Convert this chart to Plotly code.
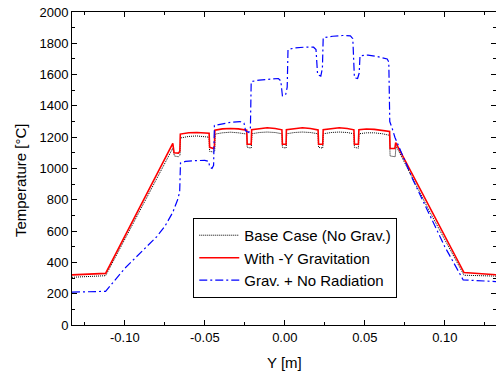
import plotly.graph_objects as go

# Base case (no gravity) - black dotted
base_x = [-0.133, -0.112, -0.0700, -0.0690, -0.0665, -0.0655, -0.0652,
          -0.060, -0.055, -0.050, -0.0473, -0.0470, -0.0445, -0.0438, -0.0435,
          -0.039, -0.034, -0.029, -0.0238, -0.0235, -0.0210, -0.0205,
          -0.016, -0.011, -0.006, -0.0018, -0.0015, 0.0008, 0.0012,
          0.006, 0.011, 0.016, 0.0208, 0.0211, 0.0237, 0.0241,
          0.029, 0.034, 0.039, 0.0432, 0.0435, 0.0460, 0.0464,
          0.051, 0.056, 0.061, 0.0655, 0.0658, 0.0690, 0.0695,
          0.090, 0.112, 0.133]
base_y = [305, 315, 1130, 1080, 1075, 1085, 1195,
          1205, 1208, 1205, 1200, 1110, 1105, 1115, 1220,
          1228, 1232, 1228, 1220, 1135, 1130, 1222,
          1230, 1233, 1230, 1222, 1135, 1130, 1222,
          1230, 1233, 1230, 1222, 1135, 1130, 1222,
          1230, 1233, 1230, 1222, 1135, 1130, 1222,
          1228, 1228, 1222, 1212, 1080, 1075, 1145,
          735, 318, 312]

# With -Y gravitation - red solid
grav_x = [-0.133, -0.112, -0.0700, -0.0692, -0.0665, -0.0656, -0.0653,
          -0.060, -0.055, -0.050, -0.0473, -0.0470, -0.0445, -0.0440, -0.0437,
          -0.039, -0.034, -0.029, -0.0238, -0.0235, -0.0210, -0.0207,
          -0.016, -0.011, -0.006, -0.0018, -0.0015, 0.0008, 0.0010,
          0.006, 0.011, 0.016, 0.0208, 0.0211, 0.0237, 0.0240,
          0.029, 0.034, 0.039, 0.0432, 0.0435, 0.0460, 0.0463,
          0.051, 0.056, 0.061, 0.0655, 0.0658, 0.0688, 0.0693,
          0.090, 0.112, 0.133]
grav_y = [320, 330, 1160, 1100, 1098, 1110, 1220,
          1228, 1230, 1228, 1225, 1135, 1128, 1140, 1245,
          1253, 1256, 1253, 1245, 1155, 1155, 1248,
          1256, 1260, 1256, 1247, 1155, 1155, 1248,
          1256, 1260, 1256, 1247, 1155, 1155, 1248,
          1256, 1260, 1256, 1247, 1155, 1155, 1248,
          1252, 1250, 1245, 1236, 1128, 1128, 1165,
          765, 335, 320]

# Gravity + no radiation - blue dash-dot
norad_x = [-0.133, -0.112, -0.100, -0.090, -0.080, -0.075, -0.070, -0.067, -0.0657, -0.0652,
           -0.062, -0.056, -0.050, -0.0475, -0.0470, -0.0455, -0.0445, -0.0440,
           -0.040, -0.034, -0.028, -0.0255, -0.0245, -0.0225, -0.0215, -0.0210,
           -0.016, -0.010, -0.004, -0.0025, -0.0015, 0.0005, 0.0015, 0.0020,
           0.006, 0.012, 0.018, 0.0195, 0.0205, 0.0225, 0.0235, 0.0240,
           0.030, 0.036, 0.041, 0.0425, 0.0435, 0.0455, 0.0465, 0.0470,
           0.052, 0.058, 0.064, 0.0650, 0.0656, 0.0670, 0.0688,
           0.080, 0.090, 0.100, 0.1115, 0.133]
norad_y = [210, 215, 362, 465, 565, 630, 720, 800, 850, 1035,
           1045, 1050, 1052, 1045, 1010, 1000, 1020, 1275,
           1285, 1295, 1300, 1290, 1240, 1230, 1260, 1555,
           1565, 1572, 1575, 1560, 1465, 1470, 1520, 1760,
           1770, 1775, 1775, 1760, 1600, 1590, 1640, 1835,
           1845, 1850, 1848, 1830, 1580, 1575, 1610, 1720,
           1725, 1715, 1700, 1680, 1300, 1260, 1200,
           930, 710, 500, 288, 277]

series_names = ["Base Case (No Grav.)", "With -Y Gravitation", "Grav. + No Radiation"]
x_title = "Y [m]"
y_title = "Temperature [°C]"

x_ticks = [-0.10, -0.05, 0.00, 0.05, 0.10]
y_ticks = [0, 200, 400, 600, 800, 1000, 1200, 1400, 1600, 1800, 2000]

fig = go.Figure()
fig.add_trace(go.Scatter(x=base_x, y=base_y, mode="lines", name=series_names[0],
                         line=dict(color="#000000", width=1, dash="1px,1px")))
fig.add_trace(go.Scatter(x=grav_x, y=grav_y, mode="lines", name=series_names[1],
                         line=dict(color="#ff0000", width=1.6)))
fig.add_trace(go.Scatter(x=norad_x, y=norad_y, mode="lines", name=series_names[2],
                         line=dict(color="#0000ff", width=1.2, dash="8px,3px,2px,3px")))

font_family = "Liberation Sans, Arial, sans-serif"
axis_common = dict(showline=True, linecolor="black", linewidth=1, mirror="ticks",
                   ticks="inside", ticklen=5, tickcolor="black", showgrid=False,
                   zeroline=False, automargin=False, ticklabeloverflow="allow",
                   tickfont=dict(size=13, color="black", family=font_family))

fig.update_layout(
    width=496, height=372,
    margin=dict(l=72, r=0, t=12, b=47),
    paper_bgcolor="white", plot_bgcolor="white",
    font=dict(family=font_family, color="black"),
    showlegend=True,
    legend=dict(x=0.286, y=0.342, xanchor="left", yanchor="top",
                bgcolor="white", bordercolor="black", borderwidth=1,
                font=dict(size=15, color="black", family=font_family),
                tracegroupgap=0, itemwidth=40),
)
fig.update_xaxes(range=[-0.133, 0.132], tickvals=x_ticks,
                 ticktext=[f"{v:.2f}" for v in x_ticks],
                 minor=dict(dtick=0.025, tick0=0, ticks="inside", ticklen=3, tickcolor="black"),
                 **axis_common)
fig.update_yaxes(range=[0, 2000], tickvals=y_ticks,
                 minor=dict(dtick=100, tick0=0, ticks="inside", ticklen=3, tickcolor="black"),
                 **axis_common)

# axis titles placed as annotations to match the reference positions
fig.add_annotation(text=x_title, xref="paper", yref="paper", x=0.5, y=-0.121,
                   xanchor="center", yanchor="middle", showarrow=False,
                   font=dict(size=15, color="black", family=font_family))
fig.add_annotation(text=y_title, xref="paper", yref="paper", x=-0.1226, y=0.463,
                   xanchor="center", yanchor="middle", showarrow=False, textangle=-90,
                   font=dict(size=15, color="black", family=font_family))

# remove the default page margin so the figure fills the window exactly
fig.write_html("out.html", config={"displayModeBar": False},
               post_script="document.body.style.margin='0';")
